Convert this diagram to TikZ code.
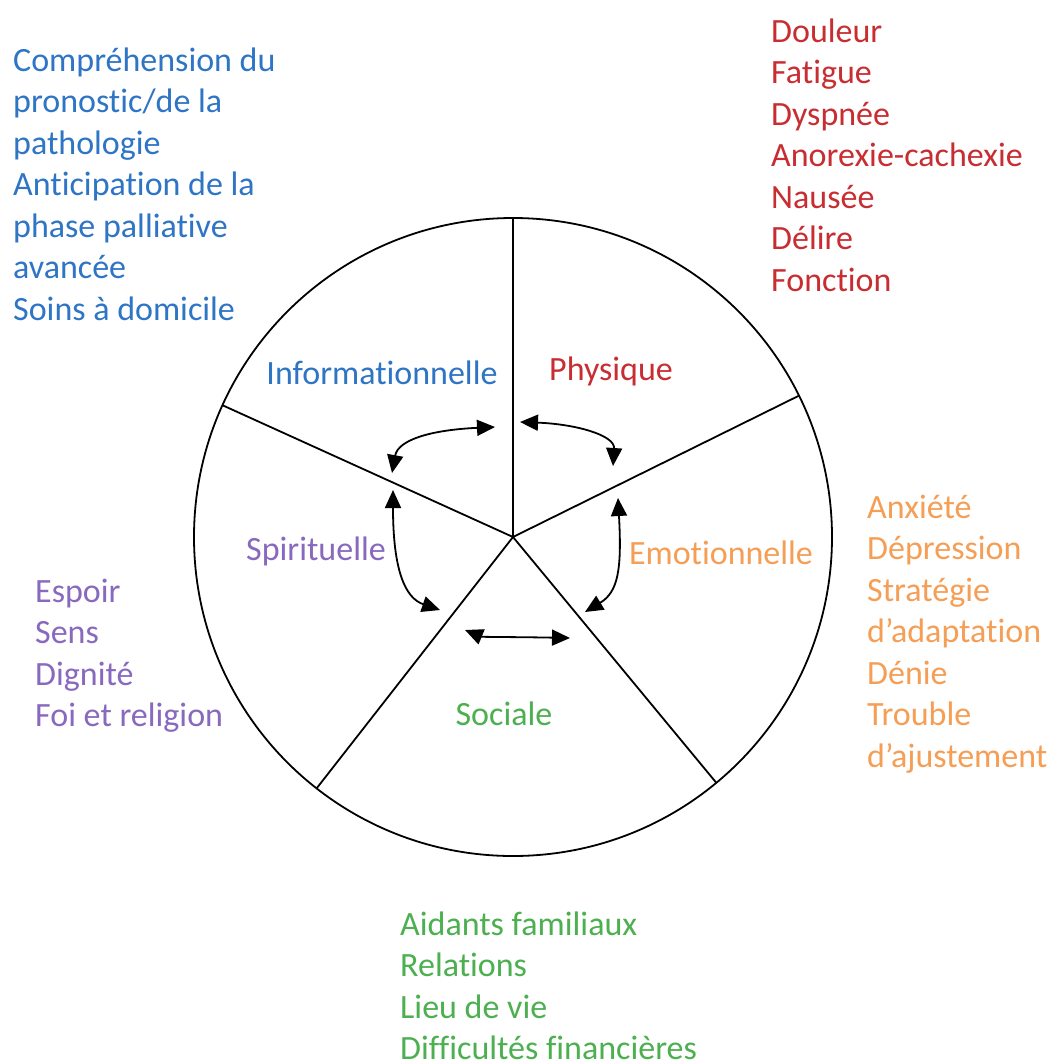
\documentclass[tikz,border=0pt]{standalone}
\usepackage{fontspec}
\setmainfont{Carlito}[Ligatures=NoCommon]
\usetikzlibrary{arrows.meta,calc}
\definecolor{cblue}{RGB}{46,117,197}
\definecolor{cred}{RGB}{200,45,50}
\definecolor{corange}{RGB}{245,158,85}
\definecolor{cpurple}{RGB}{137,105,190}
\definecolor{cgreen}{RGB}{76,176,80}
\newcommand\itemstack[1]{\vtop{\baselineskip=41.5pt\lineskiplimit=-100pt\lineskip=0pt\halign{##\hfil\cr#1\crcr}}}
\begin{document}
\begin{tikzpicture}[x=1pt,y=-1pt,
  lst/.style={anchor=base west,inner sep=0pt,font=\fontsize{34}{41.5}\selectfont},
  lbl/.style={anchor=base,inner sep=0pt,font=\fontsize{34}{41.5}\selectfont},
  rel/.style={{Triangle[length=18pt,width=16pt]}-{Triangle[length=18pt,width=16pt]},line width=1.8pt},
  sector/.style={line width=1.8pt}]
\useasboundingbox (0,0) rectangle (1056,1061);
\fill[white] (0,0) rectangle (1056,1061);
\coordinate (c) at (513,537);
\node[draw,circle,minimum size=638pt,line width=1.8pt,inner sep=0pt] (ring) at (c) {};
\foreach \a/\n in {-90/p1,-26.3/p2,50.4/p3,128/p4,-155.6/p5}
  \coordinate (\n) at ($(c)+(\a:319)$);
\foreach \n in {p1,p2,p3,p4,p5} \draw[sector] (c) -- (\n);
% sector labels
\node[lbl,text=cblue] (info) at (382,384) {Informationnelle};
\node[lbl,text=cred] (phys) at (611,380) {Physique};
\node[lbl,text=corange] (emo) at (721,564) {Emotionnelle};
\node[lbl,text=cpurple] (spir) at (316,560) {Spirituelle};
\node[lbl,text=cgreen] (soc) at (504,725) {Sociale};
% lists
\node[lst,text=cblue] (infolist) at (13,71) {\itemstack{Compréhension du\cr pronostic/de la\cr pathologie\cr Anticipation de la\cr phase palliative\cr avancée\cr Soins à domicile}};
\node[lst,text=cred] (physlist) at (771,42) {\itemstack{Douleur\cr Fatigue\cr Dyspnée\cr Anorexie-cachexie\cr Nausée\cr Délire\cr Fonction}};
\node[lst,text=corange] (emolist) at (867,518) {\itemstack{Anxiété\cr Dépression\cr Stratégie\cr d’adaptation\cr Dénie\cr Trouble\cr d’ajustement}};
\node[lst,text=cpurple] (spirlist) at (35,602) {\itemstack{Espoir\cr Sens\cr Dignité\cr Foi et religion}};
\node[lst,text=cgreen] (soclist) at (400,935) {\itemstack{Aidants familiaux\cr Relations\cr Lieu de vie\cr Difficultés financières}};
% arrows
\coordinate (a1s) at (392,473); \coordinate (a1e) at (495,427);
\coordinate (a2s) at (520,422); \coordinate (a2e) at (613,466);
\coordinate (a3s) at (618,498); \coordinate (a3e) at (585,612);
\coordinate (a4s) at (465,630); \coordinate (a4e) at (570,638);
\coordinate (a5s) at (393,490); \coordinate (a5e) at (440,610);
\draw[rel] (a1s) .. controls (398,440) and (430,430) .. (a1e);
\draw[rel] (a2s) .. controls (575,424) and (615,435) .. (a2e);
\draw[rel] (a3s) .. controls (622,570) and (618,592) .. (a3e);
\draw[rel] (a4s) .. controls (482,637) and (520,637) .. (a4e);
\draw[rel] (a5s) .. controls (393,570) and (405,598) .. (a5e);
\end{tikzpicture}
\end{document}
